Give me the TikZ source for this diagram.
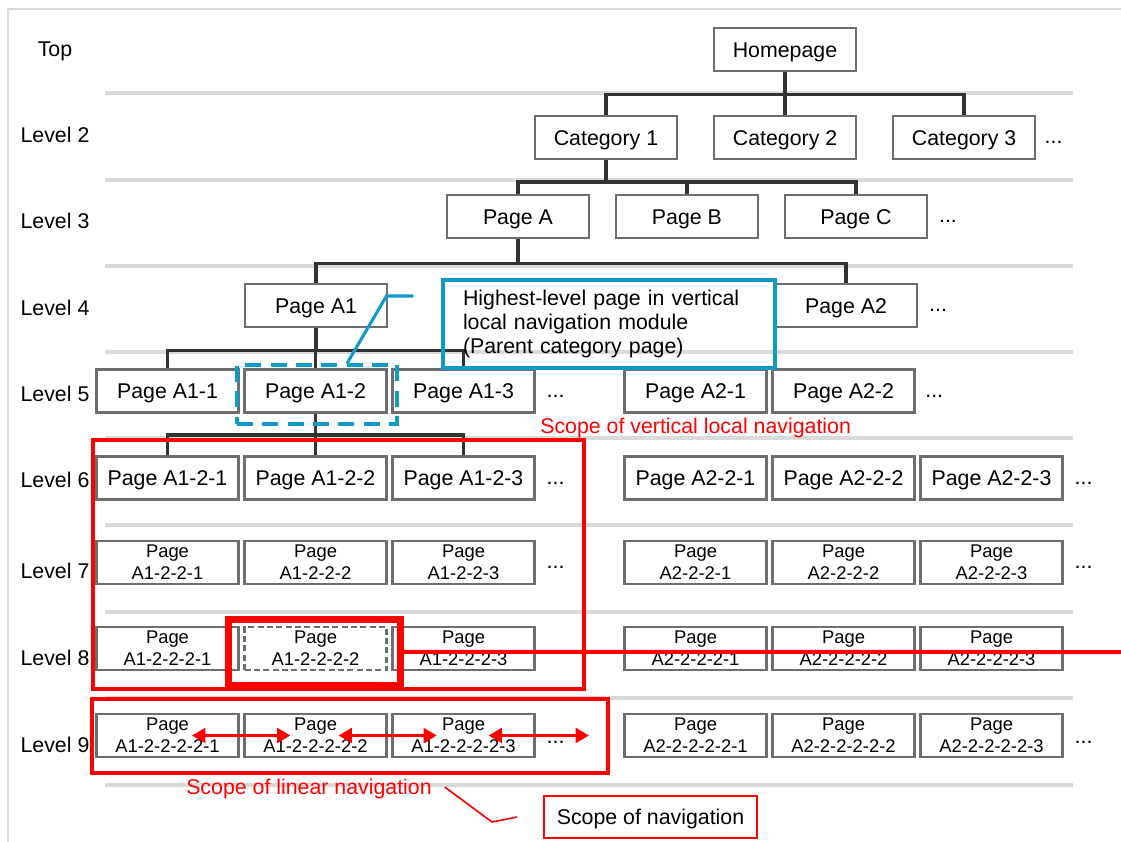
\documentclass[tikz,border=0pt]{standalone}
\usepackage{fontspec}
\setmainfont{Liberation Sans}
\usetikzlibrary{arrows.meta,positioning}
\definecolor{boxgray}{HTML}{6E6E6E}
\definecolor{linedark}{HTML}{333333}
\definecolor{sepgray}{HTML}{DADADA}
\definecolor{navblue}{HTML}{0E9BCB}
\definecolor{navred}{HTML}{FF0000}

\begin{document}
\begin{tikzpicture}[x=0.75pt,y=-0.75pt,
  pg/.style={draw=boxgray,line width=1.9pt,fill=white,minimum width=106.5pt,minimum height=32.25pt,inner sep=0pt,text height=11.5pt,text depth=0pt,font=\fontsize{16}{18}\selectfont},
  pgs/.style={draw=boxgray,line width=1.9pt,fill=white,minimum width=106.5pt,minimum height=32.25pt,inner sep=0pt,align=center,font=\fontsize{13.8}{16.5}\selectfont},
  lvl/.style={text height=11.5pt,text depth=0pt,font=\fontsize{16}{18}\selectfont},
  more/.style={inner sep=0pt,font=\fontsize{16}{18}\selectfont},
  conn/.style={draw=linedark,line width=2.6pt},
  sep/.style={draw=sepgray,line width=3pt},
  redbox/.style={draw=navred,line width=2.6pt},
  redtxt/.style={text=navred,inner sep=0pt,text height=11.5pt,text depth=0pt,font=\fontsize{16}{18}\selectfont},
  navarrow/.style={draw=navred,line width=2.4pt,{Triangle[length=10pt,width=11pt]}-{Triangle[length=10pt,width=11pt]}},
  node distance=2.6pt]
\useasboundingbox (0,0) rectangle (1121,842);
\draw[sepgray,line width=1.5pt] (8,842) -- (8,9) -- (1121,9);
\foreach \y in {93,180,266,352,438,525,612,698,785} \draw[sep] (105,\y) -- (1073,\y);

% level labels
\node[lvl] (ltop) at (55,49) {Top};
\foreach \n/\y in {2/135,3/221,4/308,5/394,6/480,7/571,8/658,9/745}
  \node[lvl] (l\n) at (55,\y) {Level \n};

% top, level 2, level 3
\node[pg] (home) at (785,49.5) {Homepage};
\node[pg] (cat1) at (606,137.5) {Category 1};
\node[pg,right=25.9pt of cat1] (cat2) {Category 2};
\node[pg,right=25.9pt of cat2] (cat3) {Category 3};
\node[more,right=6pt of cat3,yshift=-4pt] (cat3m) {...};
\node[pg] (pA) at (518,216.5) {Page A};
\node[pg,right=18.3pt of pA] (pB) {Page B};
\node[pg,right=18.3pt of pB] (pC) {Page C};
\node[more,right=8pt of pC,yshift=-4pt] (pCm) {...};

% level 4, level 5
\node[pg] (pA1) at (316,305.5) {Page A1};
\node[pg] (pA2) at (846,305.5) {Page A2};
\node[more,right=8pt of pA2,yshift=-4pt] (pA2m) {...};
\node[pg] (a11) at (167.5,391) {Page A1-1};
\node[pg,right=of a11] (a12) {Page A1-2};
\node[pg,right=of a12] (a13) {Page A1-3};
\node[more,right=8pt of a13,yshift=-4pt] (a13m) {...};
\node[pg] (a21) at (695.5,391) {Page A2-1};
\node[pg,right=of a21] (a22) {Page A2-2};
\node[more,right=7pt of a22,yshift=-4pt] (a22m) {...};

% level 6
\node[pg] (a121) at (167.5,478) {Page A1-2-1};
\node[pg,right=of a121] (a122) {Page A1-2-2};
\node[pg,right=of a122] (a123) {Page A1-2-3};
\node[more,right=8pt of a123,yshift=-4pt] (a123m) {...};
\node[pg] (a221) at (695.5,478) {Page A2-2-1};
\node[pg,right=of a221] (a222) {Page A2-2-2};
\node[pg,right=of a222] (a223) {Page A2-2-3};
\node[more,right=8pt of a223,yshift=-4pt] (a223m) {...};

% level 7
\node[pgs] (a1221) at (167.5,562.5) {Page\\A1-2-2-1};
\node[pgs,right=of a1221] (a1222) {Page\\A1-2-2-2};
\node[pgs,right=of a1222] (a1223) {Page\\A1-2-2-3};
\node[more,right=8pt of a1223,yshift=-4pt] (a1223m) {...};
\node[pgs] (a2221) at (695.5,562.5) {Page\\A2-2-2-1};
\node[pgs,right=of a2221] (a2222) {Page\\A2-2-2-2};
\node[pgs,right=of a2222] (a2223) {Page\\A2-2-2-3};
\node[more,right=8pt of a2223,yshift=-4pt] (a2223m) {...};

% level 8
\node[pgs] (a12221) at (167.5,648.5) {Page\\A1-2-2-2-1};
\node[pgs,right=of a12221,dashed,dash pattern=on 4.5pt off 2.5pt] (a12222) {Page\\A1-2-2-2-2};
\node[pgs,right=of a12222] (a12223) {Page\\A1-2-2-2-3};
\node[pgs] (a22221) at (695.5,648.5) {Page\\A2-2-2-2-1};
\node[pgs,right=of a22221] (a22222) {Page\\A2-2-2-2-2};
\node[pgs,right=of a22222] (a22223) {Page\\A2-2-2-2-3};

% level 9
\node[pgs] (a122221) at (167.5,735.5) {Page\\A1-2-2-2-2-1};
\node[pgs,right=of a122221] (a122222) {Page\\A1-2-2-2-2-2};
\node[pgs,right=of a122222] (a122223) {Page\\A1-2-2-2-2-3};
\node[more,right=8pt of a122223,yshift=-5pt] (a122223m) {...};
\node[pgs] (a222221) at (695.5,735.5) {Page\\A2-2-2-2-2-1};
\node[pgs,right=of a222221] (a222222) {Page\\A2-2-2-2-2-2};
\node[pgs,right=of a222222] (a222223) {Page\\A2-2-2-2-2-3};
\node[more,right=8pt of a222223,yshift=-5pt] (a222223m) {...};

% tree lines
\draw[conn] (home.south) -- ++(0,22) coordinate (hb);
\foreach \n in {cat1,cat2,cat3} \draw[conn] (hb) -| (\n.north);
\draw[conn] (cat1.south) -- ++(0,21.5) coordinate (cb);
\foreach \n in {pA,pB,pC} \draw[conn] (cb) -| (\n.north);
\draw[conn] (pA.south) -- ++(0,24) coordinate (ab);
\foreach \n in {pA1,pA2} \draw[conn] (ab) -| (\n.north);
\draw[conn] (pA1.south) -- ++(0,22) coordinate (a1b);
\foreach \n in {a11,a12,a13} \draw[conn] (a1b) -| (\n.north);
\draw[conn] (a12.south) -- ++(0,21) coordinate (a12b);
\foreach \n in {a121,a122,a123} \draw[conn] (a12b) -| (\n.north);

% vertical local navigation
\node[draw=navblue,line width=2.3pt,dashed,dash pattern=on 12pt off 7pt,minimum width=120pt,minimum height=44.25pt] (vscope) at (317,394.5) {};
\node[draw=navblue,line width=2.3pt,minimum width=249pt,minimum height=66pt,text width=219pt,inner xsep=15pt,align=left,font=\fontsize{16}{18}\selectfont] (callout) at (609,324)
  {Highest-level page in vertical\\local navigation module\\(Parent category page)};
\draw[navblue,line width=2.3pt] ([xshift=-21pt,yshift=21pt]callout.west) -- ++(-27,0) -- ([xshift=22.5pt]vscope.north);
\node[redtxt,anchor=west] (vtxt) at (540,426) {Scope of vertical local navigation};
\draw[redbox] (93,440) rectangle (584,689);

% current page
\draw[navred,line width=5.2pt] ([shift={(-11pt,5pt)}]a12222.north west) rectangle ([shift={(9.5pt,-11pt)}]a12222.south east);
\coordinate (redend) at (1125,652);
\draw[navred,line width=3pt] ([xshift=10pt,yshift=-2.6pt]a12222.east) -- (redend);

% linear navigation
\draw[redbox] (92,699) rectangle (608,773);
\coordinate (arrend) at (589,735.5);
\draw[navarrow] ([xshift=18.4pt]a122221.center) -- ([xshift=-18.8pt]a122222.center);
\draw[navarrow] ([xshift=17.3pt]a122222.center) -- ([xshift=-20pt]a122223.center);
\draw[navarrow] ([xshift=18.8pt]a122223.center) -- (arrend);
\node[redtxt,anchor=west] (ltxt) at (186,787) {Scope of linear navigation};
\node[draw=navred,line width=1.3pt,minimum width=159.75pt,minimum height=31.5pt,text height=11.5pt,text depth=0pt,font=\fontsize{16}{18}\selectfont] (navscope) at (650.5,817) {Scope of navigation};
\draw[navred,line width=1.2pt] ([xshift=9.5pt]ltxt.east) -- (492,822) -- ([xshift=-19.5pt]navscope.west);
\end{tikzpicture}
\end{document}
